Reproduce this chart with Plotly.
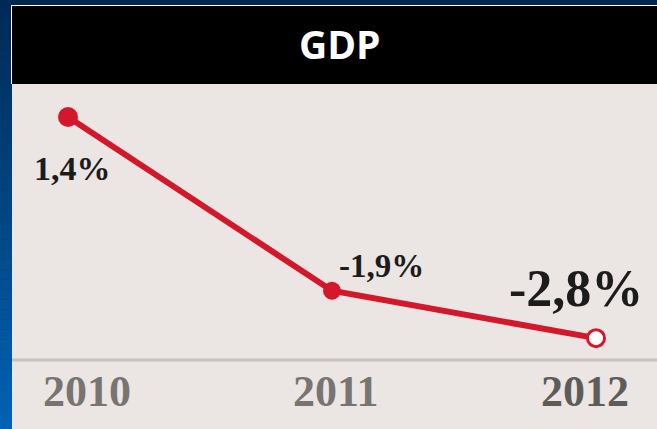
import plotly.graph_objects as go

# GDP growth, percent
years = [2010, 2011, 2012]
gdp = [1.4, -1.9, -2.8]
year_labels = ["2010", "2011", "2012"]
title_text = "GDP"

W, H = 657, 429
RED = "#d3182b"
PANEL = "#ebe6e3"


def px_x(p):
    return p / W


def px_y(p):
    return 1 - p / H


def lerp_hex(c1, c2, t):
    a = [int(c1[i:i + 2], 16) for i in (1, 3, 5)]
    b = [int(c2[i:i + 2], 16) for i in (1, 3, 5)]
    return "#" + "".join(f"{round(a[i] + (b[i] - a[i]) * t):02x}" for i in range(3))


shapes = []

# blue backdrop: darker navy at the top, brighter blue lower down the left edge
steps = 43
for i in range(steps):
    y0 = H * i / steps
    y1 = H * (i + 1) / steps
    col = lerp_hex("#002a55", "#0062b4", i / (steps - 1))
    shapes.append(dict(type="rect", xref="paper", yref="paper",
                       x0=0, x1=px_x(12), y0=px_y(y1), y1=px_y(y0),
                       fillcolor=col, line_width=0, layer="below"))
shapes.append(dict(type="rect", xref="paper", yref="paper",
                   x0=px_x(12), x1=1, y0=px_y(5), y1=1,
                   fillcolor="#00284f", line_width=0, layer="below"))

# thin white frame edge, black header bar and the light panel
shapes.append(dict(type="rect", xref="paper", yref="paper",
                   x0=px_x(11), x1=1, y0=px_y(84), y1=px_y(5),
                   fillcolor="#ffffff", line_width=0, layer="below"))
shapes.append(dict(type="rect", xref="paper", yref="paper",
                   x0=px_x(12), x1=1, y0=px_y(84), y1=px_y(6),
                   fillcolor="#000000", line_width=0, layer="below"))
shapes.append(dict(type="rect", xref="paper", yref="paper",
                   x0=px_x(12), x1=1, y0=0, y1=px_y(84),
                   fillcolor=PANEL, line_width=0, layer="below"))

# baseline above the year labels
shapes.append(dict(type="line", xref="paper", yref="paper",
                   x0=px_x(12), x1=1, y0=px_y(360), y1=px_y(360),
                   line=dict(color="#c6c1be", width=3), layer="below"))

fig = go.Figure()
fig.add_trace(go.Scatter(
    x=years, y=gdp, mode="lines+markers",
    line=dict(color=RED, width=6),
    marker=dict(size=[20, 18, 17],
                color=[RED, RED, "#ffffff"],
                line=dict(color=RED, width=[0, 0, 3]),
                opacity=1),
    hoverinfo="skip", showlegend=False,
))

annotations = []

# header
annotations.append(dict(text=f"<b>{title_text}</b>", xref="paper", yref="paper",
                        x=px_x(340), y=px_y(43), showarrow=False,
                        xanchor="center", yanchor="middle",
                        font=dict(family="Open Sans", size=39, color="#ffffff")))

# value labels: (right, down) pixel offsets from the point, and font size
label_offsets = [(4, 51, 34), (49, -25, 33), (-20, -50, 52)]
for yr, v, (dx, dy, fs) in zip(years, gdp, label_offsets):
    txt = f"{v:.1f}".replace(".", ",") + "%"
    annotations.append(dict(text=f"<b>{txt}</b>", x=yr, y=v, xref="x", yref="y",
                            showarrow=False, xanchor="center", yanchor="middle",
                            xshift=dx, yshift=-dy,
                            font=dict(family="Liberation Serif", size=fs,
                                      color="#1c1c1c")))

# year labels under the baseline
year_shift = [19, 4, -11]
year_color = ["#777472", "#777472", "#5e5c5a"]
for yr, lab, dx, col in zip(years, year_labels, year_shift, year_color):
    annotations.append(dict(text=f"<b>{lab}</b>", x=yr, y=px_y(391),
                            xref="x", yref="paper", showarrow=False,
                            xanchor="center", yanchor="middle", xshift=dx,
                            font=dict(family="Liberation Serif", size=44, color=col)))

# axis ranges chosen so the whole page is the plotting area
x_per_px = 1 / 264.0
y_per_px = 1 / 52.65
x_lo = 2010 - 68 * x_per_px
x_hi = x_lo + W * x_per_px
y_hi = 1.4 + 117 * y_per_px
y_lo = y_hi - H * y_per_px

fig.update_layout(
    width=W, height=H,
    margin=dict(l=0, r=0, t=0, b=0),
    paper_bgcolor="#003a70",
    plot_bgcolor="rgba(0,0,0,0)",
    shapes=shapes,
    annotations=annotations,
    xaxis=dict(range=[x_lo, x_hi], visible=False, fixedrange=True),
    yaxis=dict(range=[y_lo, y_hi], visible=False, fixedrange=True),
)

fig.write_html("out.html")
